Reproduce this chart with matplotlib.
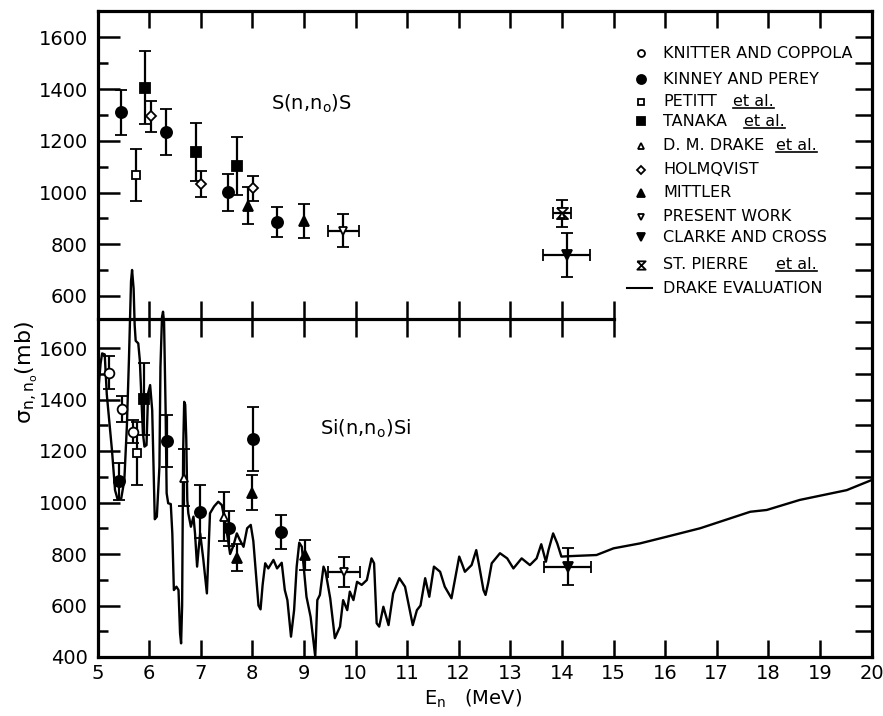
import matplotlib
matplotlib.use('Agg')
import matplotlib.pyplot as plt
from matplotlib.lines import Line2D
from matplotlib.path import Path

plt.rcParams['font.family'] = ['DejaVu Sans']
plt.rcParams['mathtext.default'] = 'regular'

# ---------------- data: S(n,n0)S (upper panel) ----------------
kinney_S_x = [5.45, 6.32, 7.53, 8.47]
kinney_S_y = [1310, 1234, 1001, 887]
kinney_S_e = [87, 90, 71, 58]
petitt_S_x = [5.75]
petitt_S_y = [1069]
petitt_S_e = [100]
tanaka_S_x = [5.92, 6.90, 7.70]
tanaka_S_y = [1406, 1156, 1104]
tanaka_S_e = [140, 112, 112]
holm_S_x = [6.04, 7.00, 8.02]
holm_S_y = [1296, 1033, 1016]
holm_S_e = [60, 50, 50]
mittler_S_x = [7.91, 9.01]
mittler_S_y = [949, 890]
mittler_S_e = [71, 66]
present_S_x = [9.76]
present_S_y = [853]
present_S_e = [65]
present_S_xe = [0.30]
stpierre_S_x = [14.0]
stpierre_S_y = [920]
stpierre_S_e = [52]
stpierre_S_xe = [0.17]
ddrake_S_x = [14.0]
ddrake_S_y = [915]
clarke_S_x = [14.09]
clarke_S_y = [759]
clarke_S_e = [84]
clarke_S_xe = [0.46]

# ---------------- data: Si(n,n0)Si (lower panel) ----------------
knitter_Si_x = [5.23, 5.48, 5.69]
knitter_Si_y = [1504, 1362, 1275]
knitter_Si_e = [63, 50, 44]
kinney_Si_x = [5.42, 6.35, 6.99, 7.54, 8.02, 8.56]
kinney_Si_y = [1083, 1240, 964, 900, 1246, 884]
kinney_Si_e = [72, 101, 103, 67, 125, 66]
petitt_Si_x = [5.77]
petitt_Si_y = [1191]
petitt_Si_e = [122]
tanaka_Si_x = [5.90]
tanaka_Si_y = [1402]
tanaka_Si_e = [140]
ddrake_Si_x = [6.67, 7.46]
ddrake_Si_y = [1096, 945]
ddrake_Si_e = [110, 95]
mittler_Si_x = [7.71, 7.99, 9.03]
mittler_Si_y = [786, 1038, 796]
mittler_Si_e = [52, 67, 58]
present_Si_x = [9.78]
present_Si_y = [731]
present_Si_e = [58]
present_Si_xe = [0.31]
clarke_Si_x = [14.11]
clarke_Si_y = [751]
clarke_Si_e = [72]
clarke_Si_xe = [0.46]

# Drake evaluation curve for Si
drake_E = [5.02, 5.06, 5.09, 5.14, 5.18, 5.28, 5.34, 5.39, 5.46, 5.52, 5.57, 5.61,
           5.65, 5.67, 5.70, 5.72, 5.74, 5.79, 5.82, 5.88, 5.91, 5.95, 5.98, 6.02,
           6.06, 6.09, 6.11, 6.15, 6.20, 6.22, 6.25, 6.27, 6.29, 6.32, 6.34, 6.37,
           6.42, 6.45, 6.48, 6.53, 6.57, 6.60, 6.62, 6.64, 6.66, 6.68, 6.70, 6.72,
           6.74, 6.76, 6.81, 6.86, 6.89, 6.93, 6.96, 6.99, 7.05, 7.12, 7.15, 7.18,
           7.26, 7.34, 7.41, 7.50, 7.57, 7.63, 7.70, 7.76, 7.83, 7.90, 7.97, 8.02,
           8.08, 8.12, 8.16, 8.20, 8.25, 8.31, 8.41, 8.48, 8.57, 8.63, 8.68, 8.75,
           8.81, 8.86, 8.91, 8.96, 9.05, 9.13, 9.22, 9.26, 9.31, 9.38, 9.42, 9.51,
           9.60, 9.70, 9.76, 9.84, 9.89, 9.96, 10.03, 10.12, 10.22, 10.31, 10.36,
           10.41, 10.46, 10.54, 10.64, 10.73, 10.85, 10.96, 11.11, 11.19, 11.26,
           11.35, 11.43, 11.52, 11.64, 11.73, 11.86, 12.01, 12.06, 12.12, 12.25,
           12.34, 12.40, 12.48, 12.52, 12.57, 12.64, 12.80, 12.94, 13.06, 13.22,
           13.38, 13.51, 13.60, 13.69, 13.74, 13.83, 13.91, 13.99, 14.19, 14.67,
           15.00, 15.51, 16.03, 16.68, 17.06, 17.65, 17.97, 18.61, 19.07, 19.52, 20.00]
drake_S = [1445, 1540, 1579, 1575, 1420, 1204, 1048, 1012, 1016, 1087, 1300, 1560,
           1860, 1903, 1830, 1690, 1628, 1618, 1553, 1269, 1217, 1223, 1424, 1456,
           1359, 1100, 935, 945, 1139, 1527, 1720, 1741, 1700, 1359, 1036, 997,
           994, 880, 660, 673, 660, 492, 453, 600, 1200, 1391, 1380, 1250,
           1010, 958, 906, 945, 880, 751, 820, 880, 780, 647, 800, 958,
           985, 1003, 990, 893, 800, 830, 880, 854, 828, 900, 913, 850,
           700, 600, 585, 680, 764, 744, 777, 744, 766, 660, 621, 479,
           582, 751, 844, 828, 634, 556, 401, 621, 641, 751, 731, 628,
           473, 518, 621, 582, 654, 621, 692, 680, 699, 783, 764,
           531, 518, 595, 524, 647, 706, 673, 524, 582, 600,
           706, 634, 751, 731, 673, 628, 790, 764, 731, 757,
           815, 751, 660, 641, 686, 764, 803, 783, 744, 783,
           757, 783, 838, 770, 815, 880, 841, 790, 792, 796,
           822, 841, 867, 900, 925, 964, 971, 1010, 1029, 1048, 1087]

x_ticks = list(range(5, 21))
bot_major = list(range(400, 1601, 200))
bot_minor = list(range(500, 1600, 200))
bot_right = list(range(500, 1701, 100))
top_major = list(range(600, 1601, 200))
top_minor = list(range(700, 1600, 200))
top_right = list(range(600, 1601, 100))

legend_names = ['KNITTER AND COPPOLA', 'KINNEY AND PEREY', 'PETITT', 'TANAKA',
                'D. M. DRAKE', 'HOLMQVIST', 'MITTLER', 'PRESENT WORK',
                'CLARKE AND CROSS', 'ST. PIERRE', 'DRAKE EVALUATION']
legend_etal = [False, False, True, True, True, False, False, False, False, True, False]

# ---------------- layout ----------------
W, H = 883, 716
fig = plt.figure(figsize=(W / 100, H / 100), dpi=100)
Lp, Rp, Tp, Bp, Dp = 97.5, 871.5, 11, 657, 319


def rect(top, bottom):
    return [Lp / W, 1 - bottom / H, (Rp - Lp) / W, (bottom - top) / H]


SPW = 2.3
TW = 1.8
FS = 14

ax = fig.add_axes(rect(Tp, Bp))
ax.set_xlim(5, 20)
ylo_b, yhi_b = 400, 400 + (Bp - Tp) * 200 / 51.5
ax.set_ylim(ylo_b, yhi_b)
for s in ax.spines.values():
    s.set_linewidth(SPW)
ax.set_xticks(x_ticks)
ax.set_xticklabels([str(t) for t in x_ticks])
ax.tick_params(axis='x', direction='in', length=12, width=TW, top=True,
               labelsize=FS, pad=5)
ax.set_yticks(bot_major)
ax.set_yticks(bot_minor, minor=True)
ax.tick_params(axis='y', which='major', direction='in', length=16, width=TW,
               labelsize=FS, pad=7)
ax.tick_params(axis='y', which='minor', direction='in', length=7, width=TW)

axr = ax.twinx()
axr.set_ylim(ylo_b, yhi_b)
axr.set_yticks(bot_right)
axr.tick_params(axis='y', direction='in', length=12, width=TW, labelright=False)
for s in axr.spines.values():
    s.set_visible(False)

axt = fig.add_axes(rect(Tp, Dp))
axt.set_xlim(5, 20)
ylo_t, yhi_t = 600 - (Dp - 296) * 200 / 51.7, 600 + (296 - Tp) * 200 / 51.7
axt.set_ylim(ylo_t, yhi_t)
axt.patch.set_alpha(0)
for k in ['left', 'right', 'top']:
    axt.spines[k].set_visible(False)
axt.spines['bottom'].set_linewidth(SPW)
axt.spines['bottom'].set_bounds(5, 15)
axt.set_xticks(list(range(6, 16)))
axt.tick_params(axis='x', direction='inout', length=26, width=TW, labelbottom=False)
axt.set_yticks(top_major)
axt.set_yticks(top_minor, minor=True)
axt.tick_params(axis='y', which='major', direction='in', length=16, width=TW,
                labelsize=FS, pad=7)
axt.tick_params(axis='y', which='minor', direction='in', length=7, width=TW)

axtr = axt.twinx()
axtr.set_ylim(ylo_t, yhi_t)
axtr.set_yticks(top_right)
axtr.tick_params(axis='y', direction='in', length=12, width=TW, labelright=False)
for s in axtr.spines.values():
    s.set_visible(False)

hourglass = Path([(-1, 1), (1, 1), (-1, -1), (1, -1), (-1, 1)])

EB = dict(ecolor='k', elinewidth=1.6, capsize=4, capthick=1.6, linestyle='none',
          mec='k', zorder=5)


def pts(a, x, y, e=None, xe=None, marker='o', ms=8, filled=True, mew=1.3):
    a.errorbar(x, y, yerr=e, xerr=xe, marker=marker, ms=ms,
               mfc='k' if filled else 'white', mew=mew, **EB)


# upper panel
pts(axt, kinney_S_x, kinney_S_y, kinney_S_e, marker='o', ms=8)
pts(axt, petitt_S_x, petitt_S_y, petitt_S_e, marker='s', ms=6, filled=False)
pts(axt, tanaka_S_x, tanaka_S_y, tanaka_S_e, marker='s', ms=7)
pts(axt, holm_S_x, holm_S_y, holm_S_e, marker='D', ms=5.5, filled=False)
pts(axt, mittler_S_x, mittler_S_y, mittler_S_e, marker='^', ms=7.5)
pts(axt, present_S_x, present_S_y, present_S_e, present_S_xe, marker='v', ms=5.5, filled=False)
pts(axt, stpierre_S_x, stpierre_S_y, stpierre_S_e, stpierre_S_xe, marker=hourglass, ms=8, filled=False)
pts(axt, ddrake_S_x, ddrake_S_y, marker='^', ms=5, filled=False)
pts(axt, clarke_S_x, clarke_S_y, clarke_S_e, clarke_S_xe, marker='v', ms=7)

# lower panel
ax.plot(drake_E, drake_S, color='k', lw=1.7, zorder=3)
pts(ax, knitter_Si_x, knitter_Si_y, knitter_Si_e, marker='o', ms=7, filled=False)
pts(ax, kinney_Si_x, kinney_Si_y, kinney_Si_e, marker='o', ms=8)
pts(ax, petitt_Si_x, petitt_Si_y, petitt_Si_e, marker='s', ms=6, filled=False)
pts(ax, tanaka_Si_x, tanaka_Si_y, tanaka_Si_e, marker='s', ms=7)
pts(ax, ddrake_Si_x, ddrake_Si_y, ddrake_Si_e, marker='^', ms=6, filled=False)
pts(ax, mittler_Si_x, mittler_Si_y, mittler_Si_e, marker='^', ms=7.5)
pts(ax, present_Si_x, present_Si_y, present_Si_e, present_Si_xe, marker='v', ms=5.5, filled=False)
pts(ax, clarke_Si_x, clarke_Si_y, clarke_Si_e, clarke_Si_xe, marker='v', ms=7)

# panel labels
fig.text(311 / W, 1 - 104 / H, r'S(n,n$_{o}$)S', fontsize=FS, ha='center', va='center')
fig.text(366 / W, 1 - 429 / H, r'Si(n,n$_{o}$)Si', fontsize=FS, ha='center', va='center')
fig.text(27 / W, 1 - 372 / H, r'$\sigma_{n,n_{o}}$(mb)', fontsize=16, rotation=90,
         ha='center', va='center')
fig.text(473 / W, 1 - 699 / H, r'E$_{n}$   (MeV)', fontsize=FS, ha='center', va='center')

# legend (manual)
leg_y = [53.3, 79, 101.7, 121, 145.7, 170, 192.7, 216.7, 237.3, 265, 288.3]
leg_mk = [('o', False, 5), ('o', True, 6.5), ('s', False, 4.5), ('s', True, 5.5),
          ('^', False, 5), ('D', False, 4.5), ('^', True, 6), ('v', False, 5),
          ('v', True, 6), (hourglass, False, 6), None]
etal_x = {2: 733, 3: 744, 4: 776, 9: 776}
mx, tx = 640.7, 663
etal_texts = []
for i, name in enumerate(legend_names):
    fy = 1 - leg_y[i] / H
    if leg_mk[i] is None:
        fig.add_artist(Line2D([626.7 / W, 651.7 / W], [fy, fy], color='k', lw=1.5,
                              transform=fig.transFigure))
    else:
        m, f, s = leg_mk[i]
        fig.add_artist(Line2D([mx / W], [fy], marker=m, ms=s, mfc='k' if f else 'white',
                              mec='k', mew=1.3, linestyle='none',
                              transform=fig.transFigure))
    fig.text(tx / W, fy, name, fontsize=11.5, ha='left', va='center')
    if legend_etal[i]:
        t = fig.text(etal_x[i] / W, fy, 'et al.', fontsize=11.5, ha='left', va='center')
        etal_texts.append(t)

fig.canvas.draw()
r = fig.canvas.get_renderer()
for t in etal_texts:
    bb = t.get_window_extent(r)
    yl = (bb.y0 + 1) / H
    fig.add_artist(Line2D([bb.x0 / W, bb.x1 / W], [yl, yl], color='k', lw=1.2,
                          transform=fig.transFigure))

fig.savefig('out.png', dpi=100)
